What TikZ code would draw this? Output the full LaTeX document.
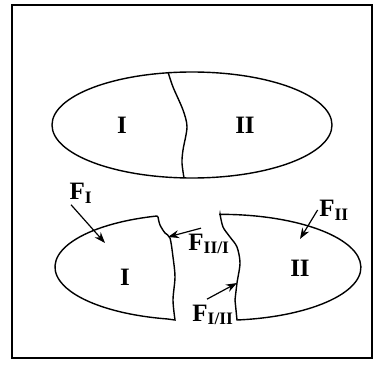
\documentclass[tikz,border=0pt]{standalone}
\usepackage{fontspec}
\setmainfont{Liberation Serif}
\usetikzlibrary{arrows.meta}

\begin{document}
\begin{tikzpicture}[x=1pt, y=1pt, line width=1.4pt,
	every node/.style={font=\fontsize{25}{25}\selectfont\bfseries, inner sep=1pt},
	force/.style={-{Stealth[length=11pt, width=8pt]}, line width=1.2pt}]
	\useasboundingbox (0,0) rectangle (376,368);
	\draw[line width=1.6pt] (12,10) rectangle (372,363);
	% whole body
	\draw (192,243) ellipse[x radius=140pt, y radius=53pt];
	\draw plot[smooth] coordinates {(168,296) (173,281) (183,258) (187,241) (183,218) (182,205) (184,190)};
	\node (topI) at (122,243) {I};
	\node (topII) at (245,243) {II};
	% cut apart
	\draw (157,152) arc[start angle=105.75, end angle=258.5, x radius=140pt, y radius=53pt]
		-- plot[smooth] coordinates {(175,48) (173,68) (175,91) (173,111) (170,130) (165,135) (160,143) (158,151)} -- cycle;
	\draw (237,48) arc[start angle=-83.4, end angle=90.4, x radius=140pt, y radius=53pt]
		-- plot[smooth] coordinates {(220,154) (223,141) (230,131) (237,121) (240,105) (237,85) (235,68)} -- cycle;
	\node (botI) at (125,91) {I};
	\node (botII) at (300,100) {II};
	% forces
	\node (fI) at (81,175) {F\textsubscript{I}};
	\node (fII) at (334,158) {F\textsubscript{II}};
	\node (fIIa) at (209,124) {F\textsubscript{II/I}};
	\node (fIaII) at (213,53) {F\textsubscript{I/II}};
	\coordinate (tI) at (105,125);
	\coordinate (tII) at (300,129);
	\coordinate (tIIa) at (168,131);
	\coordinate (tIaII) at (237,85);
	\draw[force] ([xshift=3pt]fI.south west) -- (tI);
	\draw[force] (fII.west) -- (tII);
	\draw[force] ([xshift=-8pt, yshift=4pt]fIIa.north) -- (tIIa);
	\draw[force] ([xshift=-6pt, yshift=4pt]fIaII.north) -- (tIaII);
\end{tikzpicture}
\end{document}
